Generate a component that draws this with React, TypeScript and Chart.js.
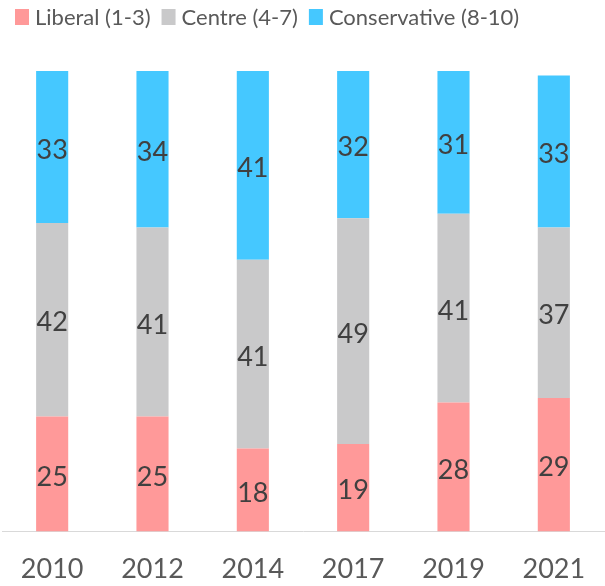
import React, { useEffect, useRef } from "react";
import { Chart, registerables } from "chart.js";

Chart.register(...registerables);

const categories = ["2010", "2012", "2014", "2017", "2019", "2021"];
const liberal = [25, 25, 18, 19, 28, 29];
const centre = [42, 41, 41, 49, 41, 37];
const conservative = [33, 34, 41, 32, 31, 33];
const seriesNames = ["Liberal (1-3)", "Centre (4-7)", "Conservative (8-10)"];
const seriesColors = ["#FF9999", "#C9C9CA", "#45C8FF"];

const FONT = "Lato";

const valueLabels = {
  id: "valueLabels",
  afterDatasetsDraw(chart: any) {
    const ctx = chart.ctx;
    ctx.save();
    ctx.font = `27px ${FONT}`;
    ctx.fillStyle = "#404040";
    ctx.textAlign = "center";
    ctx.textBaseline = "middle";
    chart.data.datasets.forEach((ds: any, di: number) => {
      const meta = chart.getDatasetMeta(di);
      meta.data.forEach((el: any, i: number) => {
        const v = ds.data[i];
        const y = (el.y + el.base) / 2;
        ctx.fillText(String(v), el.x, y + 3);
      });
    });
    ctx.restore();
  },
};

const customLegend = {
  id: "customLegend",
  afterDraw(chart: any) {
    const ctx = chart.ctx;
    ctx.save();
    ctx.font = `22px ${FONT}`;
    ctx.textBaseline = "middle";
    ctx.textAlign = "left";
    let x = 15;
    const cy = 17;
    chart.data.datasets.forEach((ds: any) => {
      ctx.fillStyle = ds.backgroundColor;
      ctx.fillRect(x, cy - 8, 14, 16);
      x += 14 + 6;
      ctx.fillStyle = "#595959";
      ctx.fillText(ds.label, x, cy + 1);
      x += ctx.measureText(ds.label).width + 11;
    });
    ctx.restore();
  },
};

export default function App() {
  const ref = useRef<HTMLCanvasElement | null>(null);
  useEffect(() => {
    document.body.style.margin = "0";
    if (!ref.current) return;
    const chart = new Chart(ref.current, {
      type: "bar",
      data: {
        labels: categories,
        datasets: [
          { label: seriesNames[0], data: liberal, backgroundColor: seriesColors[0] },
          { label: seriesNames[1], data: centre, backgroundColor: seriesColors[1] },
          { label: seriesNames[2], data: conservative, backgroundColor: seriesColors[2] },
        ],
      },
      options: {
        animation: false,
        responsive: false,
        devicePixelRatio: 1,
        layout: { padding: { left: 2, right: 1, top: 71, bottom: 0 } },
        datasets: { bar: { barPercentage: 0.32, categoryPercentage: 1 } },
        plugins: {
          legend: { display: false },
          tooltip: { enabled: false },
        },
        scales: {
          x: {
            stacked: true,
            grid: { display: false, drawTicks: false },
            border: { display: true, color: "#D9D9D9", width: 1 },
            ticks: {
              color: "#595959",
              font: { family: FONT, size: 27, lineHeight: "75px" },
              padding: 0,
            },
            afterFit: (scale: any) => {
              scale.height = 54.5;
            },
          },
          y: {
            stacked: true,
            display: false,
            min: 0,
            max: 100,
          },
        },
      },
      plugins: [valueLabels, customLegend],
    });
    return () => chart.destroy();
  }, []);
  return (
    <div style={{ width: 605, height: 586 }}>
      <canvas ref={ref} width={605} height={586} style={{ display: "block" }} />
    </div>
  );
}
